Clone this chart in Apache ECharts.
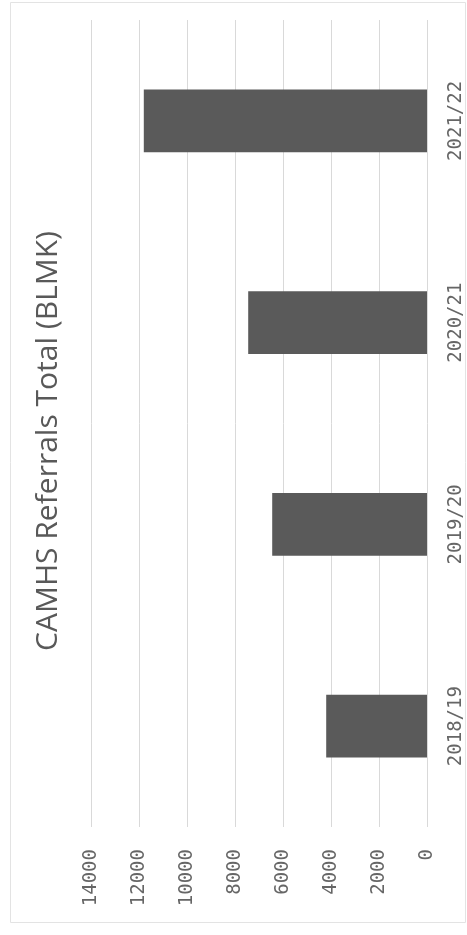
<!DOCTYPE html>
<html>
<head>
<meta charset="utf-8">
<script src="https://cdn.jsdelivr.net/npm/echarts@6/dist/echarts.min.js"></script>
<style>
html,body{margin:0;padding:0;background:#fff;}
#chart{width:467px;height:935px;}
</style>
</head>
<body>
<div id="chart"></div>
<script>
const categories = ['2018/19', '2019/20', '2020/21', '2021/22'];
const referrals = [4200, 6450, 7450, 11800];
const titleText = 'CAMHS Referrals Total (BLMK)';
const valueMin = 0, valueMax = 14000, valueStep = 2000;

const chart = echarts.init(document.getElementById('chart'));
const textColor = '#595959';
chart.setOption({
  animation: false,
  backgroundColor: '#ffffff',
  graphic: [
    {
      type: 'rect',
      shape: { x: 10.5, y: 2.5, width: 455, height: 920 },
      style: { fill: 'none', stroke: '#e3e3e3', lineWidth: 1 },
      silent: true
    },
    {
      type: 'text',
      x: 48, y: 441,
      rotation: Math.PI / 2,
      style: {
        text: titleText,
        fill: textColor,
        font: '30px "Open Sans"',
        textAlign: 'center',
        textVerticalAlign: 'middle'
      }
    }
  ],
  grid: { left: 91, right: 40, top: 20, bottom: 108, containLabel: false },
  xAxis: {
    type: 'value',
    inverse: true,
    min: valueMin, max: valueMax, interval: valueStep,
    position: 'bottom',
    axisLine: { show: false },
    axisTick: { show: false },
    splitLine: { lineStyle: { color: '#d9d9d9', width: 1 } },
    axisLabel: {
      rotate: 90,
      margin: 22,
      color: '#666666',
      fontFamily: 'DejaVu Sans Mono',
      fontSize: 19,
      formatter: function (v) { return String(v); }
    }
  },
  yAxis: {
    type: 'category',
    data: categories,
    position: 'right',
    axisLine: { show: false },
    axisTick: { show: false },
    splitLine: { show: false },
    axisLabel: {
      rotate: 90,
      margin: 20,
      color: '#666666',
      fontFamily: 'DejaVu Sans Mono',
      fontSize: 19
    }
  },
  series: [{
    type: 'bar',
    data: referrals,
    barCategoryGap: '69%',
    itemStyle: { color: '#5a5a5a' }
  }]
});
</script>
</body>
</html>
